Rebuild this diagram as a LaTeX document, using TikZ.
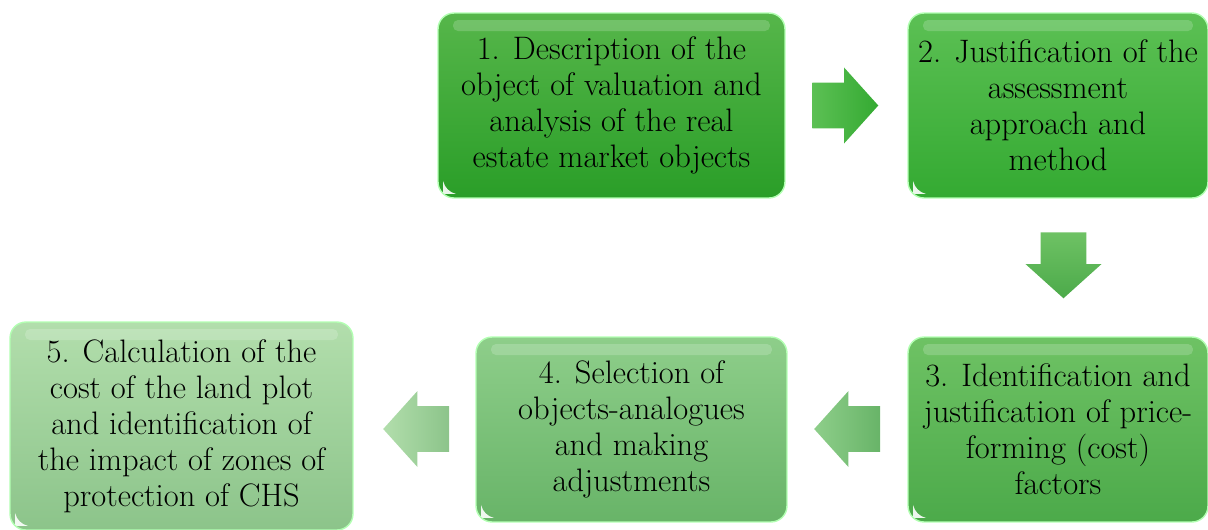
\documentclass[tikz,border=0pt]{standalone}
\usetikzlibrary{shapes.arrows}

\begin{document}
\begin{tikzpicture}[x=0.02cm,y=-0.02cm,font=\fontsize{18.5}{20.5}\selectfont,
   stagebox/.style={rounded corners=0.32cm,align=center,inner sep=2pt,draw=white!70!green,line width=0.8pt,
      path picture={
         \fill[white,opacity=0.18,rounded corners=0.1cm] ([xshift=0.3cm,yshift=-0.14cm]path picture bounding box.north west)
            rectangle ([xshift=-0.3cm,yshift=-0.36cm]path picture bounding box.north east);
         \fill[white,opacity=0.9,sharp corners] ([xshift=0.1cm,yshift=0.08cm]path picture bounding box.south west)
            -- ++(0,0.26cm) to[bend right=30] ++(0.26cm,-0.26cm) -- cycle;}},
   stagearrow/.style={single arrow,inner xsep=0pt,inner ysep=0.45cm,minimum height=1.32cm,
      single arrow head extend=0.3cm,single arrow tip angle=96,draw=none}]
   \definecolor{stageone}{RGB}{42,158,40}
   \definecolor{stageonetop}{RGB}{86,182,74}
   \definecolor{stagetwo}{RGB}{52,170,50}
   \definecolor{stagetwotop}{RGB}{92,192,84}
   \definecolor{stagethree}{RGB}{76,170,74}
   \definecolor{stagethreetop}{RGB}{110,194,100}
   \definecolor{stagefour}{RGB}{104,180,104}
   \definecolor{stagefourtop}{RGB}{142,206,138}
   \definecolor{stagefive}{RGB}{140,196,138}
   \definecolor{stagefivetop}{RGB}{178,222,172}
   \useasboundingbox (0,0) rectangle (1208,529);
   % stages
   \node[stagebox,top color=stageonetop,bottom color=stageone,minimum width=6.94cm,minimum height=3.7cm]
      (one) at (611.5,105.5) {1. Description of the\\object of valuation and\\analysis of the real\\estate market objects};
   \node[stagebox,top color=stagetwotop,bottom color=stagetwo,minimum width=6cm,minimum height=3.7cm]
      (two) at (1058,105.5) {2. Justification of the\\assessment\\approach and\\method};
   \node[stagebox,top color=stagethreetop,bottom color=stagethree,minimum width=6cm,minimum height=3.7cm]
      (three) at (1058,429.5) {3. Identification and\\justification of price-\\forming (cost)\\factors};
   \node[stagebox,top color=stagefourtop,bottom color=stagefour,minimum width=6.22cm,minimum height=3.7cm]
      (four) at (631.5,429.5) {4. Selection of\\objects-analogues\\and making\\adjustments};
   \node[stagebox,top color=stagefivetop,bottom color=stagefive,minimum width=6.86cm,minimum height=4.16cm]
      (five) at (181.5,426) {5. Calculation of the\\cost of the land plot\\and identification of\\the impact of zones of\\protection of CHS};
   % block arrows between the stages
   \node[stagearrow,left color=stagetwotop,right color=stagetwo] (onetwo) at (835,105.5) {};
   \node[stagearrow,inner xsep=0.45cm,inner ysep=0pt,shape border rotate=270,top color=stagethreetop,bottom color=stagethree] (twothree) at (1063.5,255) {};
   \node[stagearrow,shape border rotate=180,left color=stagefourtop,right color=stagefour] (threefour) at (857.5,429) {};
   \node[stagearrow,shape border rotate=180,left color=stagefivetop,right color=stagefive] (fourfive) at (426.5,429) {};
\end{tikzpicture}
\end{document}
